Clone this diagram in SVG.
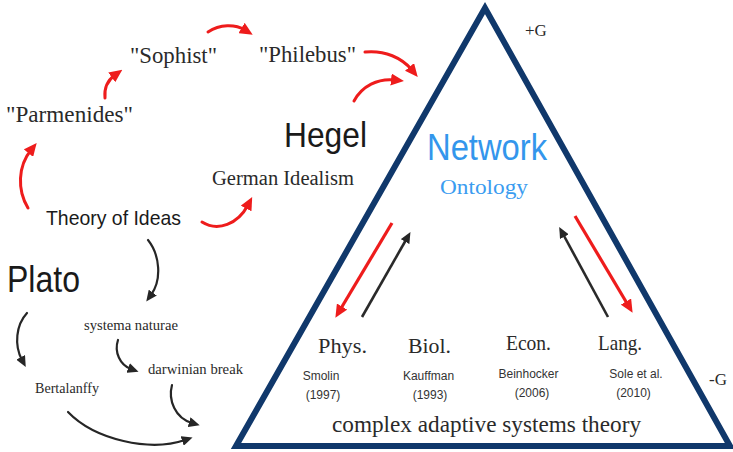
<svg xmlns="http://www.w3.org/2000/svg" width="733" height="452" viewBox="0 0 733 452">
<style>
.serif{font-family:"Liberation Serif","DejaVu Serif",serif;fill:#2a2a2a}
.sans{font-family:"Liberation Sans","DejaVu Sans",sans-serif;fill:#1a1a1a}
.small{font-family:"Liberation Sans","DejaVu Sans",sans-serif;font-size:12px;fill:#333;text-anchor:middle}
.red{fill:none;stroke:#ee1c1c;stroke-width:3;stroke-linecap:round}
.blk{fill:none;stroke:#262626;stroke-width:2.2;stroke-linecap:round}
.redL{stroke:#ee1c1c;stroke-width:3.2}
.blkL{stroke:#2a2a2a;stroke-width:2.6}
</style>
<defs>
<marker id="rh" viewBox="0 0 13 12" markerWidth="13" markerHeight="12" refX="4" refY="6" orient="auto" markerUnits="userSpaceOnUse">
<path d="M0,0 L13,6 L0,12 z" fill="#ee1c1c"/>
</marker>
<marker id="bh" viewBox="0 0 11 10" markerWidth="11" markerHeight="10" refX="3" refY="5" orient="auto" markerUnits="userSpaceOnUse">
<path d="M0,0 L11,5 L0,10 z" fill="#262626"/>
</marker>
</defs>
<rect width="733" height="452" fill="#ffffff"/>

<g id="triangle">
<path d="M485,8 L236,446 L730,446 Z" fill="none" stroke="#10386b" stroke-width="6" stroke-linejoin="miter"/>
</g>

<g id="connectors">
<path class="red" d="M28,208 C17,190 18,166 31,150" marker-end="url(#rh)"/>
<path class="red" d="M105,98 C104,88 108,80 115,75" marker-end="url(#rh)"/>
<path class="red" d="M208,32 C220,24 235,24 245,30" marker-end="url(#rh)"/>
<path class="red" d="M365,52 C385,50 402,58 412,70" marker-end="url(#rh)"/>
<path class="red" d="M354,101 C362,86 378,78 395,80" marker-end="url(#rh)"/>
<path class="red" d="M202,222 C218,232 238,224 248,205" marker-end="url(#rh)"/>
<path class="blk" d="M148,240 C160,255 162,280 151,295" marker-end="url(#bh)"/>
<path class="blk" d="M27,313 C16,325 14,345 22,360" marker-end="url(#bh)"/>
<path class="blk" d="M118,340 C114,352 120,365 131,369" marker-end="url(#bh)"/>
<path class="blk" d="M172,385 C168,400 175,418 192,423" marker-end="url(#bh)"/>
<path class="blk" d="M68,412 C95,440 150,452 185,440" marker-end="url(#bh)"/>
<line class="redL" x1="392" y1="223" x2="340" y2="310" marker-end="url(#rh)"/>
<line class="blkL" x1="362" y1="317" x2="406.5" y2="239" marker-end="url(#bh)"/>
<line class="blkL" x1="608" y1="317" x2="563" y2="234" marker-end="url(#bh)"/>
<line class="redL" x1="575" y1="216" x2="628" y2="305" marker-end="url(#rh)"/>
</g>

<g id="parmenides"><text class="serif" x="6" y="122" font-size="23" textLength="127" lengthAdjust="spacingAndGlyphs">"Parmenides"</text></g>
<g id="sophist"><text class="serif" x="130" y="63" font-size="23" textLength="87" lengthAdjust="spacingAndGlyphs">"Sophist"</text></g>
<g id="philebus"><text class="serif" x="259" y="62" font-size="23" textLength="97" lengthAdjust="spacingAndGlyphs">"Philebus"</text></g>
<g id="hegel"><text class="sans" x="284" y="147" font-size="35" textLength="83" lengthAdjust="spacingAndGlyphs">Hegel</text></g>
<g id="german-idealism"><text class="serif" x="212" y="185" font-size="20" textLength="142" lengthAdjust="spacingAndGlyphs">German Idealism</text></g>
<g id="theory-of-ideas"><text class="sans" x="46" y="225" font-size="21" textLength="135" lengthAdjust="spacingAndGlyphs">Theory of Ideas</text></g>
<g id="plato"><text class="sans" x="7" y="292" font-size="37" textLength="73" lengthAdjust="spacingAndGlyphs">Plato</text></g>
<g id="systema-naturae"><text class="serif" x="84" y="330" font-size="14.5" textLength="94" lengthAdjust="spacingAndGlyphs">systema naturae</text></g>
<g id="darwinian-break"><text class="serif" x="148" y="374" font-size="14.5" textLength="95" lengthAdjust="spacingAndGlyphs">darwinian break</text></g>
<g id="bertalanffy"><text class="serif" x="35" y="393" font-size="14" textLength="64" lengthAdjust="spacingAndGlyphs">Bertalanffy</text></g>

<g id="network-ontology">
<text x="427" y="160" font-family="Liberation Sans, DejaVu Sans, sans-serif" font-size="36" fill="#3396ec" textLength="120" lengthAdjust="spacingAndGlyphs">Network</text>
<text x="440" y="194" font-family="Liberation Serif, DejaVu Serif, serif" font-size="22" fill="#3a9cf0" textLength="88" lengthAdjust="spacingAndGlyphs">Ontology</text>
</g>
<g id="plus-g"><text class="serif" x="525" y="36" font-size="17">+G</text></g>
<g id="minus-g"><text class="serif" x="709" y="385" font-size="17">-G</text></g>

<g id="phys">
<text class="serif" x="318" y="353" font-size="21" textLength="49" lengthAdjust="spacingAndGlyphs">Phys.</text>
<text class="small" x="321" y="380">Smolin</text>
<text class="small" x="323" y="399">(1997)</text>
</g>
<g id="biol">
<text class="serif" x="408" y="353" font-size="21" textLength="43" lengthAdjust="spacingAndGlyphs">Biol.</text>
<text class="small" x="428.5" y="380">Kauffman</text>
<text class="small" x="430" y="399">(1993)</text>
</g>
<g id="econ">
<text class="serif" x="506" y="350" font-size="21" textLength="45" lengthAdjust="spacingAndGlyphs">Econ.</text>
<text class="small" x="528.5" y="378">Beinhocker</text>
<text class="small" x="532" y="397">(2006)</text>
</g>
<g id="lang">
<text class="serif" x="598" y="350" font-size="21" textLength="44" lengthAdjust="spacingAndGlyphs">Lang.</text>
<text class="small" x="636" y="378">Sole et al.</text>
<text class="small" x="633.5" y="397">(2010)</text>
</g>
<g id="cas-theory"><text class="serif" x="332" y="432" font-size="23" textLength="309" lengthAdjust="spacingAndGlyphs">complex adaptive systems theory</text></g>
</svg>
